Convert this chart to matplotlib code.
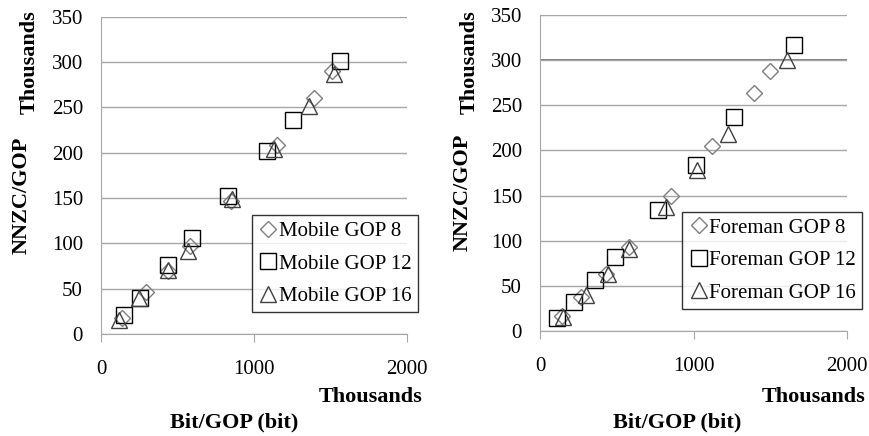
import numpy as np
import matplotlib.pyplot as plt

plt.rcParams['font.family'] = ['Liberation Serif', 'DejaVu Serif']

# --- data (thousands) ---
mob8_x = [140, 295, 440, 580, 850, 1150, 1390, 1510]
mob8_y = [18, 46, 70, 97, 147, 208, 260, 290]
mob12_x = [150, 255, 435, 595, 830, 1085, 1255, 1565]
mob12_y = [21, 40, 76, 106, 152, 202, 236, 301]
mob16_x = [115, 250, 440, 567, 858, 1133, 1360, 1525]
mob16_y = [15, 40, 71, 92, 149, 204, 252, 287]

for8_x = [145, 270, 430, 578, 850, 1120, 1390, 1495]
for8_y = [17, 38, 63, 93, 149, 205, 264, 288]
for12_x = [110, 220, 355, 490, 765, 1013, 1265, 1650]
for12_y = [14, 32, 56, 82, 134, 184, 237, 317]
for16_x = [150, 300, 440, 580, 820, 1020, 1225, 1605]
for16_y = [15, 40, 63, 91, 137, 178, 218, 300]

series_left = [(mob8_x, mob8_y, 'Mobile GOP 8'),
               (mob12_x, mob12_y, 'Mobile GOP 12'),
               (mob16_x, mob16_y, 'Mobile GOP 16')]
series_right = [(for8_x, for8_y, 'Foreman GOP 8'),
                (for12_x, for12_y, 'Foreman GOP 12'),
                (for16_x, for16_y, 'Foreman GOP 16')]

styles = [dict(marker='D', ms=8, mec='#7f7f7f', mew=1.0),
          dict(marker='s', ms=12, mec='black', mew=1.0),
          dict(marker='^', ms=11, mec='#404040', mew=1.0)]

fig = plt.figure(figsize=(8.69, 4.36), dpi=100)
ax1 = fig.add_axes([0.1162, 0.234, 0.352, 0.7278])
ax2 = fig.add_axes([0.6214, 0.2408, 0.3536, 0.7248])


def style_axes(ax, series, legend_box):
    for (x, y, lab), st in zip(series, styles):
        ax.plot(x, y, linestyle='none', mfc='none', label=lab, **st)
    ax.set_xlim(0, 2000)
    ax.set_ylim(0, 350)
    ax.set_xticks([0, 1000, 2000])
    ax.set_yticks(np.arange(0, 351, 50))
    ax.yaxis.grid(True, color='#a6a6a6', linewidth=1.0)
    ax.set_axisbelow(True)
    for s in ['top', 'right']:
        ax.spines[s].set_visible(False)
    ax.spines['left'].set_color('#a6a6a6')
    ax.spines['bottom'].set_color('#a6a6a6')
    ax.tick_params(axis='y', length=0, labelsize=15, pad=13)
    ax.tick_params(axis='x', length=6, color='#a6a6a6', labelsize=15, pad=13)
    leg = ax.legend(loc='upper left', bbox_to_anchor=legend_box, fontsize=15,
                    frameon=True, fancybox=False, edgecolor='black',
                    handletextpad=0.0, handlelength=1.0, borderpad=0.3,
                    labelspacing=0.62, borderaxespad=0)
    leg.get_frame().set_linewidth(1.0)


style_axes(ax1, series_left, (0.493, 0.374))
style_axes(ax2, series_right, (0.462, 0.377))

# darker gridline at 300 on the right chart
ax2.axhline(300, color='#6e6e6e', linewidth=1.3, zorder=0.5)

# axis titles in figure pixels
W, H = 869, 436
lab_kw = dict(fontsize=16, fontweight='bold')
fig.text(22 / W, 1 - 195 / H, 'NNZC/GOP', rotation=90, ha='center', va='center', **lab_kw)
fig.text(30 / W, 1 - 62 / H, 'Thousands', rotation=90, ha='center', va='center', **lab_kw)
fig.text(234 / W, 1 - 422 / H, 'Bit/GOP (bit)', ha='center', va='center', **lab_kw)
fig.text(422 / W, 1 - 397 / H, 'Thousands', ha='right', va='center', **lab_kw)

fig.text(463 / W, 1 - 192 / H, 'NNZC/GOP', rotation=90, ha='center', va='center', **lab_kw)
fig.text(470 / W, 1 - 62 / H, 'Thousands', rotation=90, ha='center', va='center', **lab_kw)
fig.text(677 / W, 1 - 422 / H, 'Bit/GOP (bit)', ha='center', va='center', **lab_kw)
fig.text(865 / W, 1 - 397 / H, 'Thousands', ha='right', va='center', **lab_kw)

fig.savefig('out.png', dpi=100)
